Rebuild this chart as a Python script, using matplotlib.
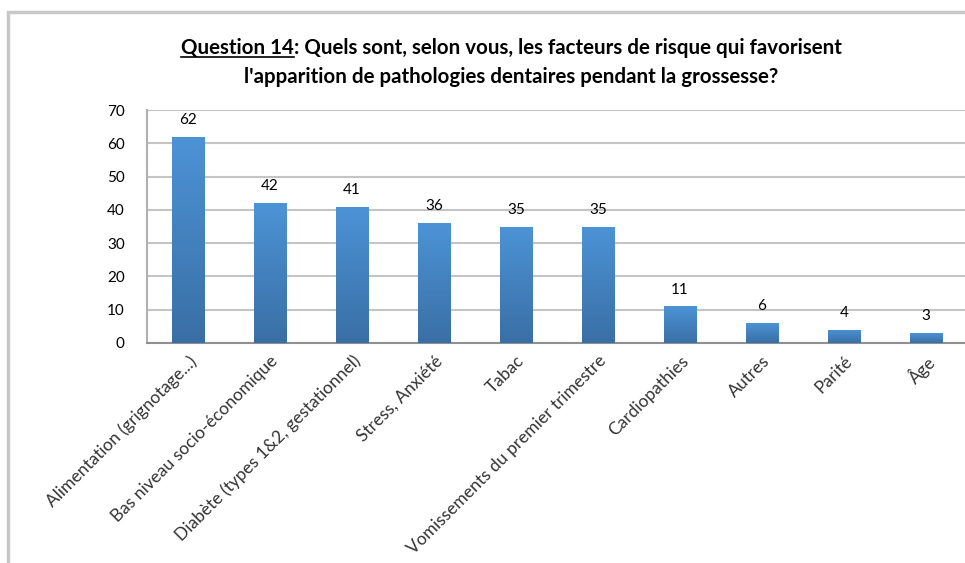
import numpy as np
import matplotlib.pyplot as plt
from matplotlib.patches import Rectangle
from matplotlib.lines import Line2D
from matplotlib.colors import LinearSegmentedColormap

categories = ['Alimentation (grignotage...)', 'Bas niveau socio-économique',
              'Diabète (types 1&2, gestationnel)', 'Stress, Anxiété', 'Tabac',
              'Vomissements du premier trimestre', 'Cardiopathies', 'Autres',
              'Parité', 'Âge']
values = [62, 42, 41, 36, 35, 35, 11, 6, 4, 3]

plt.rcParams['font.family'] = ['Lato', 'DejaVu Sans']

fig = plt.figure(figsize=(9.65, 5.63), dpi=100)
ax = fig.add_axes([147/965, 220/563, 820/965, 233/563])

# outer chart frame
fig.patches.append(Rectangle((8/965, -0.1), 1.2, (563-12)/563 + 0.1, transform=fig.transFigure,
                             fill=False, edgecolor='#c8c8c8', linewidth=2.5))

x = np.arange(len(categories))
bars = ax.bar(x, values, width=0.4, color='#4a8bcb', zorder=2)

# vertical gradient on each bar
grad = np.linspace(0, 1, 100).reshape(-1, 1)
cmap = LinearSegmentedColormap.from_list('b', ['#3a6fa5', '#4c93d6'])
for b in bars:
    im = ax.imshow(grad, cmap=cmap, aspect='auto', origin='lower', zorder=3,
                   extent=[b.get_x(), b.get_x() + b.get_width(), 0, b.get_height()])
    im.set_clip_path(b)

for xi, v in zip(x, values):
    ax.annotate(str(v), (xi, v), xytext=(0, 7), textcoords='offset points',
                ha='center', va='bottom', fontsize=11, color='black')

ax.set_xlim(-0.5, len(categories) - 0.5)
ax.set_ylim(0, 70)
ax.set_yticks(range(0, 71, 10))
ax.yaxis.grid(True, color='#c4c4c4', linewidth=1.5, zorder=0)
ax.set_axisbelow(True)
for s in ['top', 'right']:
    ax.spines[s].set_visible(False)
ax.spines['left'].set_color('#b0b0b0')
ax.spines['left'].set_linewidth(1.5)
ax.spines['bottom'].set_color('#909090')
ax.spines['bottom'].set_linewidth(1.5)
ax.tick_params(axis='y', length=0, pad=16, labelsize=11)
ax.tick_params(axis='x', length=0, pad=7)
ax.set_xticks(x)
ax.set_xticklabels(categories, rotation=45, ha='right', va='top',
                   rotation_mode='anchor', fontsize=12.5, color='#333333')

# title with underlined "Question 14"
fig.canvas.draw()
r = fig.canvas.get_renderer()
part1 = 'Question 14'
part2 = ': Quels sont, selon vous, les facteurs de risque qui favorisent'
t1 = fig.text(0, 0, part1, fontsize=14.8, fontweight='bold')
t2 = fig.text(0, 0, part2, fontsize=14.8, fontweight='bold')
w1 = t1.get_window_extent(r).width
w2 = t2.get_window_extent(r).width
x0 = 511 - (w1 + w2) / 2
y1 = 563 - 54
t1.set_position((x0 / 965, y1 / 563))
t2.set_position(((x0 + w1) / 965, y1 / 563))
fig.lines.append(Line2D([x0 / 965, (x0 + w1) / 965], [(y1 - 3) / 563, (y1 - 3) / 563],
                        transform=fig.transFigure, color='black', linewidth=1.2))
fig.text(511 / 965, (563 - 83) / 563,
         "l'apparition de pathologies dentaires pendant la grossesse?",
         fontsize=14.8, fontweight='bold', ha='center')

fig.savefig('out.png', dpi=100)
